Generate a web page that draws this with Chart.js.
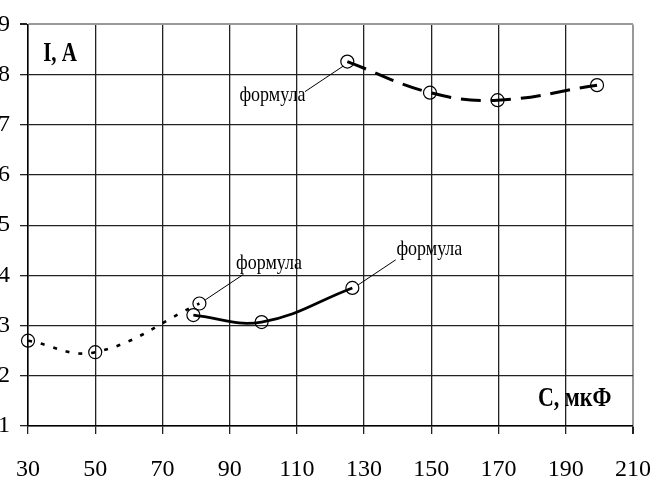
<!DOCTYPE html>
<html>
<head>
<meta charset="utf-8">
<script src="https://cdn.jsdelivr.net/npm/chart.js@4/dist/chart.umd.min.js"></script>
<style>
  html, body { margin: 0; padding: 0; background: #fff; overflow: hidden; }
  #wrap { width: 662px; height: 482px; position: relative; }
</style>
</head>
<body>
<div id="wrap"><canvas id="grafico"></canvas></div>
<script>
// Datos
const puntosX = [30, 50, 81];            // curva punteada
const puntosY = [2.70, 2.47, 3.44];
const solidaX = [79.2, 99.5, 126.5];     // curva continua
const solidaY = [3.21, 3.07, 3.75];
const discX = [125, 149.6, 169.7, 199.3]; // curva discontinua
const discY = [8.26, 7.64, 7.49, 7.79];

// Anotaciones "формула" (texto + línea guía), en unidades de los ejes
const notaTexto = 'формула';
const notaX = [92.9, 91.9, 139.6];
const notaY = [7.48, 4.12, 4.40];
const guiaDesdeX = [112.4, 94.1, 139.4];
const guiaDesdeY = [7.66, 4.02, 4.31];
const guiaHastaX = [123.8, 82.7, 128.2];
const guiaHastaY = [8.17, 3.51, 3.81];

const tituloY = 'I, A';
const tituloX = 'C, мкФ';

const toPoints = (xs, ys) => xs.map((x, i) => ({ x: x, y: ys[i] }));

const FUENTE = "'Liberation Serif', 'Times New Roman', serif";

// texto algo estirado en vertical, como en el original
function textoAlto(ctx, texto, x, y, escala) {
  ctx.save();
  ctx.translate(x, y);
  ctx.scale(1, escala);
  ctx.fillText(texto, 0, 0);
  ctx.restore();
}

const notasPlugin = {
  id: 'notas',
  afterDatasetsDraw(chart) {
    const ctx = chart.ctx;
    const sx = chart.scales.x;
    const sy = chart.scales.y;
    ctx.save();
    ctx.fillStyle = '#000';
    ctx.strokeStyle = '#000';
    ctx.lineWidth = 1;
    ctx.font = '18px ' + FUENTE;
    ctx.textBaseline = 'alphabetic';
    ctx.textAlign = 'left';
    for (let i = 0; i < notaX.length; i++) {
      textoAlto(ctx, notaTexto, sx.getPixelForValue(notaX[i]), sy.getPixelForValue(notaY[i]), 1.15);
      ctx.beginPath();
      ctx.moveTo(sx.getPixelForValue(guiaDesdeX[i]), sy.getPixelForValue(guiaDesdeY[i]));
      ctx.lineTo(sx.getPixelForValue(guiaHastaX[i]), sy.getPixelForValue(guiaHastaY[i]));
      ctx.stroke();
    }
    ctx.font = 'bold 21px ' + FUENTE;
    textoAlto(ctx, tituloY, sx.getPixelForValue(34.5), sy.getPixelForValue(8.28), 1.28);
    ctx.font = 'bold 22px ' + FUENTE;
    textoAlto(ctx, tituloX, sx.getPixelForValue(181.7), sy.getPixelForValue(1.40), 1.22);
    ctx.restore();
  }
};

const estiloSerie = {
  borderColor: '#000',
  pointStyle: 'circle',
  pointRadius: 6.5,
  pointBorderWidth: 1.2,
  pointBorderColor: '#000',
  pointBackgroundColor: 'rgba(0,0,0,0)',
  tension: 0.4,
  fill: false,
  clip: false
};

const ctx = document.getElementById('grafico').getContext('2d');
const myChart = new Chart(ctx, {
  type: 'line',
  data: {
    datasets: [
      Object.assign({ label: 'punteada', data: toPoints(puntosX, puntosY), borderWidth: 2.6, borderDash: [4, 9] }, estiloSerie),
      Object.assign({ label: 'continua', data: toPoints(solidaX, solidaY), borderWidth: 2.8 }, estiloSerie),
      Object.assign({ label: 'discontinua', data: toPoints(discX, discY), borderWidth: 3, borderDash: [20, 10] }, estiloSerie)
    ]
  },
  options: {
    responsive: true,
    maintainAspectRatio: false,
    animation: false,
    layout: { padding: { top: 19, right: 29, left: 0, bottom: 0 } },
    plugins: {
      legend: { display: false },
      tooltip: { enabled: false }
    },
    scales: {
      x: {
        type: 'linear',
        min: 30,
        max: 210,
        // padding pequeño para no estrechar el área; el lineHeight baja las etiquetas
        ticks: { stepSize: 20, color: '#000', padding: 8, maxRotation: 0, font: { family: FUENTE, size: 24, lineHeight: 2.3 } },
        grid: {
          color: (c) => (c.tick && c.tick.value === 210 ? '#999' : '#222'),
          lineWidth: (c) => (c.tick && c.tick.value === 210 ? 2 : 1.3),
          tickColor: '#222',
          tickLength: 8
        },
        border: { color: '#000', width: 1.5 },
        afterFit: (scale) => { scale.height = 56; }
      },
      y: {
        min: 1,
        max: 9,
        ticks: { stepSize: 1, color: '#000', padding: 10, font: { family: FUENTE, size: 24 } },
        grid: {
          color: (c) => (c.tick && c.tick.value === 9 ? '#999' : '#222'),
          lineWidth: (c) => (c.tick && c.tick.value === 9 ? 2 : 1.3),
          tickColor: '#222',
          tickLength: 8
        },
        border: { color: '#000', width: 1.5 },
        afterFit: (scale) => { scale.width = 28; }
      }
    }
  },
  plugins: [notasPlugin]
});
</script>
</body>
</html>
